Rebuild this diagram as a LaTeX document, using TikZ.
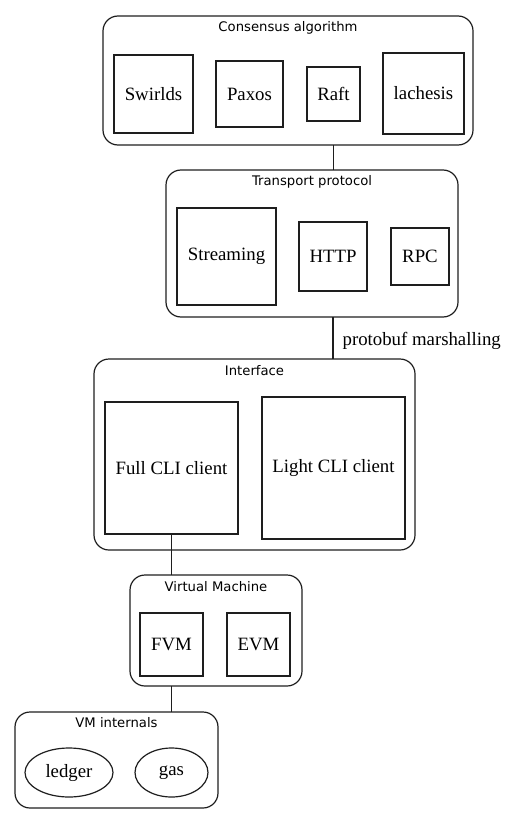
\documentclass[tikz,border=0pt]{standalone}
\usepackage{fontspec}
\setmainfont{Liberation Serif}
\newfontfamily\grouptitlefont{DejaVu Sans}
\usepackage{tikz}
\usetikzlibrary{positioning}
\usetikzlibrary{shapes.geometric}
\usepackage{xcolor}
\definecolor{darkline}{RGB}{30,30,30}

\begin{document}
\begin{tikzpicture}[x=1pt,y=-1pt,line width=1.2pt,
    group/.style={draw=darkline,rectangle,rounded corners=15pt,inner sep=0pt,outer sep=0pt},
    grouptitle/.style={inner sep=0pt,font=\grouptitlefont\fontsize{13.2}{15}\selectfont},
    item/.style={draw=darkline,rectangle,inner sep=0pt,outer sep=0pt,font=\fontsize{18.8}{21}\selectfont},
    blob/.style={draw=darkline,ellipse,inner sep=0pt,outer sep=0pt,font=\fontsize{18.8}{21}\selectfont},
    link/.style={draw=darkline}]
            \useasboundingbox (0,0) rectangle (505,824);
            %
            \node (consensus) at (288,80.5) [group,minimum width=370pt,minimum height=129pt] {};
            \node (consensustitle) at (288,28) [grouptitle] {Consensus algorithm};
            \node (swirlds) at (153.5,94) [item,minimum width=79pt,minimum height=78pt] {Swirlds};
            \node (paxos) at (249.5,94) [item,minimum width=67pt,minimum height=66pt] {Paxos};
            \node (raft) at (333.5,94) [item,minimum width=53pt,minimum height=54pt] {Raft};
            \node (lachesis) at (423.5,93.5) [item,minimum width=81pt,minimum height=81pt] {lachesis};
            %
            \node (transport) at (312,243.5) [group,minimum width=292pt,minimum height=147pt] {};
            \node (transporttitle) at (312,182) [grouptitle] {Transport protocol};
            \node (streaming) at (226.5,256.5) [item,minimum width=99pt,minimum height=97pt] {Streaming};
            \node (http) at (333,256.5) [item,minimum width=68pt,minimum height=69pt] {HTTP};
            \node (rpc) at (420,256.5) [item,minimum width=58pt,minimum height=57pt] {RPC};
            %
            \node (interface) at (254.5,454.5) [group,minimum width=321pt,minimum height=191pt] {};
            \node (interfacetitle) at (254.5,371) [grouptitle] {Interface};
            \node (fullcli) at (171.5,468) [item,minimum width=133pt,minimum height=132pt] {Full CLI client};
            \node (lightcli) at (333.5,468) [item,minimum width=143pt,minimum height=142pt] {Light CLI client};
            %
            \node (vm) at (216,630.5) [group,minimum width=172pt,minimum height=111pt] {};
            \node (vmtitle) at (216,587) [grouptitle] {Virtual Machine};
            \node (fvm) at (171.5,644.5) [item,minimum width=63pt,minimum height=63pt] {FVM};
            \node (evm) at (258.5,644.5) [item,minimum width=63pt,minimum height=63pt] {EVM};
            %
            \node (internals) at (116.5,760) [group,minimum width=203pt,minimum height=96pt] {};
            \node (internalstitle) at (116.5,723) [grouptitle] {VM internals};
            \node (ledger) at (69,772.5) [blob,minimum width=88pt,minimum height=49pt] {ledger};
            \node (gas) at (171.5,772.5) [blob,minimum width=73pt,minimum height=49pt] {gas};
            %
            \draw [link] (raft |- consensus.south) -- (raft |- transport.north);
            \draw [link] (http |- transport.south) -- (http |- interface.north) node[pos=0.5,right=9pt,yshift=-3pt,inner sep=0pt,font=\fontsize{18.8}{21}\selectfont] (protobuf) {protobuf marshalling};
            \draw [link] (fullcli.south) -- (fullcli |- vm.north);
            \draw [link] (fvm |- vm.south) -- (fvm |- internals.north);
            %
        \end{tikzpicture}
\end{document}
